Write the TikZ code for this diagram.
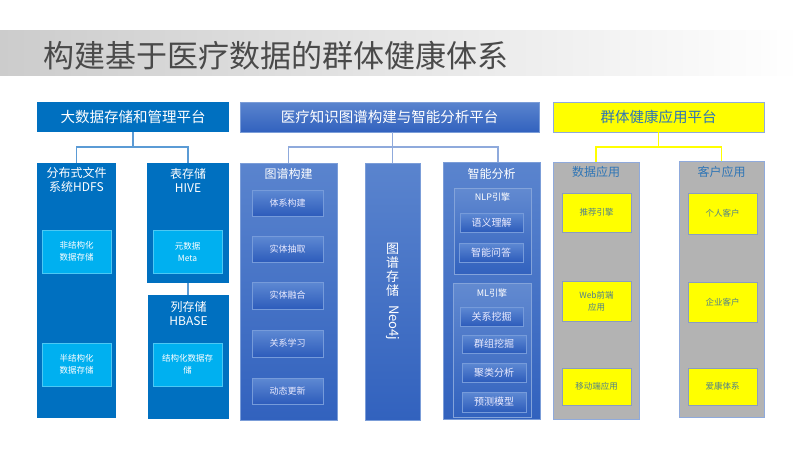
\documentclass[tikz,border=0pt]{standalone}
\usepackage{fontspec}
\usepackage{graphicx}
\setmainfont{Noto Sans CJK SC}
\usetikzlibrary{shadings}
\definecolor{lblue}{HTML}{0070C0}
\definecolor{lcyan}{HTML}{00B0F0}
\definecolor{lconn}{HTML}{5B9BD5}
\definecolor{mtop}{HTML}{5A84CE}
\definecolor{mbot}{HTML}{3262BE}
\definecolor{itop}{HTML}{5E89D3}
\definecolor{ibot}{HTML}{2D5CBB}
\definecolor{mconn}{HTML}{8FAADC}
\definecolor{ryel}{HTML}{FFFF00}
\definecolor{rgray}{HTML}{B3B3B3}
\definecolor{rbord}{HTML}{8FAADC}
\definecolor{rtitle}{HTML}{2E75B6}
\definecolor{rtext}{HTML}{4F7F8C}
\definecolor{ttext}{HTML}{4A4A4A}
\tikzset{
  bx/.style={rectangle, inner sep=0pt, outer sep=0pt},
  lbox/.style={bx, fill=lblue},
  lin/.style={bx, fill=lcyan, draw=lcyan!70!white, line width=0.6pt, text=white, align=center, font=\fontsize{8.5}{12}\selectfont},
  mbox/.style={bx, top color=mtop, bottom color=mbot, draw=mtop!80!white, line width=0.4pt},
  min/.style={bx, top color=itop, bottom color=ibot, draw=itop!85!white, line width=0.4pt, text=white!92!blue, font=\fontsize{9}{12}\selectfont},
  mgrp/.style={bx, top color=mtop!95!white, bottom color=mbot, draw=mtop!75!white, line width=0.4pt},
  ybox/.style={bx, fill=ryel, draw=rbord, line width=0.8pt},
  gbox/.style={bx, fill=rgray, draw=rbord, line width=0.8pt},
  yin/.style={bx, fill=ryel, draw=rbord!70!gray, line width=0.6pt, text=rtext, align=center, font=\fontsize{8.5}{12}\selectfont},
  toptxt/.style={font=\fontsize{14.5}{17}\selectfont},
  subtxt/.style={font=\fontsize{12}{14}\selectfont, align=center, inner sep=0pt},
}
\begin{document}
\begin{tikzpicture}[x=1pt, y=-1pt]
\useasboundingbox (0,0) rectangle (800,450);
\fill[white] (0,0) rectangle (800,450);
% title banner
\shade[left color=black!20, right color=white] (0,30) rectangle (800,75);
\node[anchor=west, inner sep=0pt, text=ttext, font=\fontsize{31}{34}\selectfont] (title) at (43,56) {构建基于医疗数据的群体健康体系};

% ===== Left column =====
\node[lbox, minimum width=192, minimum height=30, text=white, toptxt] (L0) at (133,117) {大数据存储和管理平台};
\node[lbox, minimum width=79, minimum height=255] (hdfs) at (76.5,290.5) {};
\node[lbox, minimum width=82, minimum height=120] (hive) at (188,223) {};
\node[lbox, minimum width=81, minimum height=124] (hbase) at (188.5,357) {};
\node[subtxt, text=white] (hdfst) at (76.5,180) {分布式文件\\系统HDFS};
\node[subtxt, text=white] (hivet) at (188,180) {表存储\\HIVE};
\node[subtxt, text=white] (hbaset) at (188.5,314) {列存储\\HBASE};
\node[lin, minimum width=69, minimum height=43] (h1) at (76.5,251.5) {非结构化\\数据存储};
\node[lin, minimum width=69, minimum height=43] (h2) at (76.5,364.5) {半结构化\\数据存储};
\node[lin, minimum width=69, minimum height=43] (meta) at (187.5,251.5) {元数据\\Meta};
\node[lin, minimum width=69, minimum height=43] (hb1) at (187.5,364.5) {结构化数据存\\储};
\draw[lconn, line width=1.2pt] (L0.south) -- (133,147) coordinate (lj) -| (hdfs.north);
\draw[lconn, line width=1.2pt] (lj) -| (hive.north);
\draw[lconn, line width=1.2pt] (hive.south) -- (hive.south |- hbase.north);

% ===== Middle column =====
\node[mbox, minimum width=299, minimum height=30, text=white, toptxt] (M0) at (389.5,117) {医疗知识图谱构建与智能分析平台};
\node[mbox, minimum width=97, minimum height=257] (tupu) at (288.5,291.5) {};
\node[mbox, minimum width=55, minimum height=257] (neo) at (392.5,291.5) {};
\node[mbox, minimum width=97, minimum height=257] (zn) at (491.5,290.5) {};
\node[subtxt, text=white] (tuput) at (288.5,174) {图谱构建};
\node[subtxt, text=white] (znt) at (491.5,174) {智能分析};
\node[align=center, text=white, inner sep=0pt, font=\fontsize{13}{14}\selectfont] (neot) at (392.5,292) {图\\谱\\存\\储\\[-7pt]\rotatebox{-90}{\,Neo4j}};
\node[min, minimum width=71, minimum height=26] (t1) at (287.5,203) {体系构建};
\node[min, minimum width=71, minimum height=26] (t2) at (287.5,249) {实体抽取};
\node[min, minimum width=71, minimum height=27] (t3) at (287.5,295.5) {实体融合};
\node[min, minimum width=71, minimum height=27] (t4) at (287.5,343.5) {关系学习};
\node[min, minimum width=71, minimum height=26] (t5) at (287.5,391) {动态更新};
\node[mgrp, minimum width=77, minimum height=86] (nlp) at (492.5,231) {};
\node[mgrp, minimum width=78, minimum height=134] (ml) at (492,350) {};
\node[text=white, inner sep=0pt, font=\fontsize{9}{11}\selectfont] (nlpt) at (492.5,197) {NLP引擎};
\node[text=white, inner sep=0pt, font=\fontsize{9}{11}\selectfont] (mlt) at (492,293) {ML引擎};
\node[min, minimum width=63, minimum height=19, font=\fontsize{10}{12}\selectfont] (z1) at (491.5,222.5) {语义理解};
\node[min, minimum width=64, minimum height=19, font=\fontsize{10}{12}\selectfont] (z2) at (491,252.5) {智能问答};
\node[min, minimum width=63, minimum height=19, font=\fontsize{10}{12}\selectfont] (z3) at (491.5,316.5) {关系挖掘};
\node[min, minimum width=64, minimum height=18, font=\fontsize{10}{12}\selectfont] (z4) at (494,344) {群组挖掘};
\node[min, minimum width=64, minimum height=19, font=\fontsize{10}{12}\selectfont] (z5) at (494,372.5) {聚类分析};
\node[min, minimum width=64, minimum height=20, font=\fontsize{10}{12}\selectfont] (z6) at (494,402) {预测模型};
\draw[mconn, line width=1.2pt] (neo.north |- M0.south) -- (neo.north);
\draw[mconn, line width=1.2pt] (tupu.north) -- (tupu.north |- 0,147) -- ([xshift=6.5pt]zn.north |- 0,147) -- ([xshift=6.5pt]zn.north);

% ===== Right column =====
\node[ybox, minimum width=211, minimum height=30, text=rtitle, toptxt] (R0) at (658.5,117) {群体健康应用平台};
\node[gbox, minimum width=86, minimum height=257] (sj) at (596,290.5) {};
\node[gbox, minimum width=85, minimum height=256] (kh) at (721.5,289) {};
\node[subtxt, text=rtitle] (sjt) at (596,172) {数据应用};
\node[subtxt, text=rtitle] (kht) at (721.5,172) {客户应用};
\node[yin, minimum width=69, minimum height=39] (r1) at (596.5,212.5) {推荐引擎};
\node[yin, minimum width=69, minimum height=40] (r2) at (596.5,301) {Web前端\\应用};
\node[yin, minimum width=69, minimum height=37] (r3) at (596.5,386.5) {移动端应用};
\node[yin, minimum width=69, minimum height=41] (k1) at (722.5,213.5) {个人客户};
\node[yin, minimum width=69, minimum height=40] (k2) at (722.5,302) {企业客户};
\node[yin, minimum width=69, minimum height=37] (k3) at (722.5,386.5) {爱康体系};
\draw[ryel, line width=1.5pt] (R0.south) -- (658.5,147) coordinate (rj) -| (sj.north);
\draw[ryel, line width=1.5pt] (rj) -| (kh.north);
\end{tikzpicture}
\end{document}
